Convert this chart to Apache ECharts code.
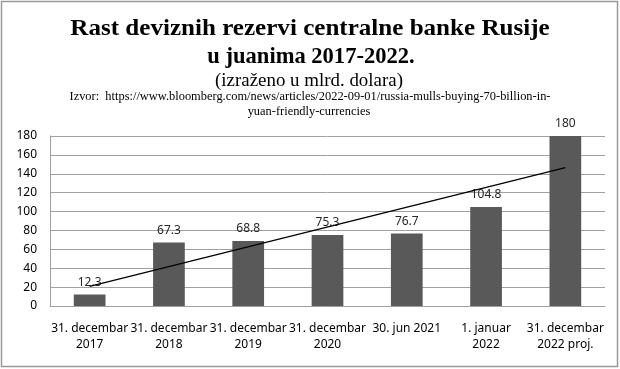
<!DOCTYPE html>
<html><head><meta charset="utf-8">
<script src="https://cdn.jsdelivr.net/npm/echarts@6/dist/echarts.min.js"></script>
<style>html,body{margin:0;padding:0;background:#fff}#c{width:620px;height:369px}</style>
</head><body><div id="c"></div>
<script>
var categories = ['31. decembar\n2017','31. decembar\n2018','31. decembar\n2019','31. decembar\n2020','30. jun 2021','1. januar\n2022','31. decembar\n2022 proj.'];
var values = [12.3, 67.3, 68.8, 75.3, 76.7, 104.8, 180];
var trend = [20.8, null, null, null, null, null, 146.4];
var yTicks = [0, 20, 40, 60, 80, 100, 120, 140, 160, 180];
var titleLines = ['Rast deviznih rezervi centralne banke Rusije', 'u juanima 2017-2022.'];
var subtitle = '(izraženo u mlrd. dolara)';
var sourceLines = ['Izvor:  https://www.bloomberg.com/news/articles/2022-09-01/russia-mulls-buying-70-billion-in-', 'yuan-friendly-currencies'];

function txt(t, x, y, font, sx) {
  return {type:'text', x:x, y:y, scaleX:sx, silent:true,
    style:{text:t, x:0, y:0, textAlign:'center', textVerticalAlign:'top', font:font, fill:'#000'}};
}

var chart = echarts.init(document.getElementById('c'));
chart.setOption({
  animation: false,
  backgroundColor: '#fff',
  graphic: [
    {type:'rect', shape:{x:1.5,y:1.5,width:616,height:365}, style:{fill:'none', stroke:'#9a9a9a', lineWidth:1.5}, silent:true},
    txt(titleLines[0], 310, 18, 'bold 23px "Liberation Serif"', 1.09),
    txt(titleLines[1], 311, 46, 'bold 23px "Liberation Serif"', 0.98),
    txt(subtitle, 309, 72, '18px "Liberation Serif"', 1.05),
    txt(sourceLines[0], 310, 90.5, '13px "Liberation Serif"', 0.955),
    txt(sourceLines[1], 309, 105, '13px "Liberation Serif"', 0.955)
  ],
  grid: {left: 50, right: 15, top: 136, bottom: 63},
  xAxis: {type:'category', data: categories,
    axisLine:{lineStyle:{color:'#a0a0a0'}}, axisTick:{show:false},
    axisLabel:{interval:0, color:'#000', fontFamily:'Noto Sans', fontSize:12, lineHeight:16, margin:15}},
  yAxis: {type:'value', min: yTicks[0], max: yTicks[yTicks.length-1], interval: 20,
    axisLine:{show:true, lineStyle:{color:'#a0a0a0'}}, axisTick:{show:false},
    splitLine:{lineStyle:{color:'#a0a0a0'}},
    axisLabel:{color:'#000', fontFamily:'Noto Sans', fontSize:12, margin:13}},
  series: [
    {type:'bar', data: values, barWidth:'40%', itemStyle:{color:'#595959'},
     label:{show:true, position:'top', distance:6, color:'#262626', fontFamily:'Noto Sans', fontSize:12}},
    {type:'line', data: trend, connectNulls:true, symbol:'none', lineStyle:{color:'#000', width:1.3}, z:5}
  ]
});
</script></body></html>
